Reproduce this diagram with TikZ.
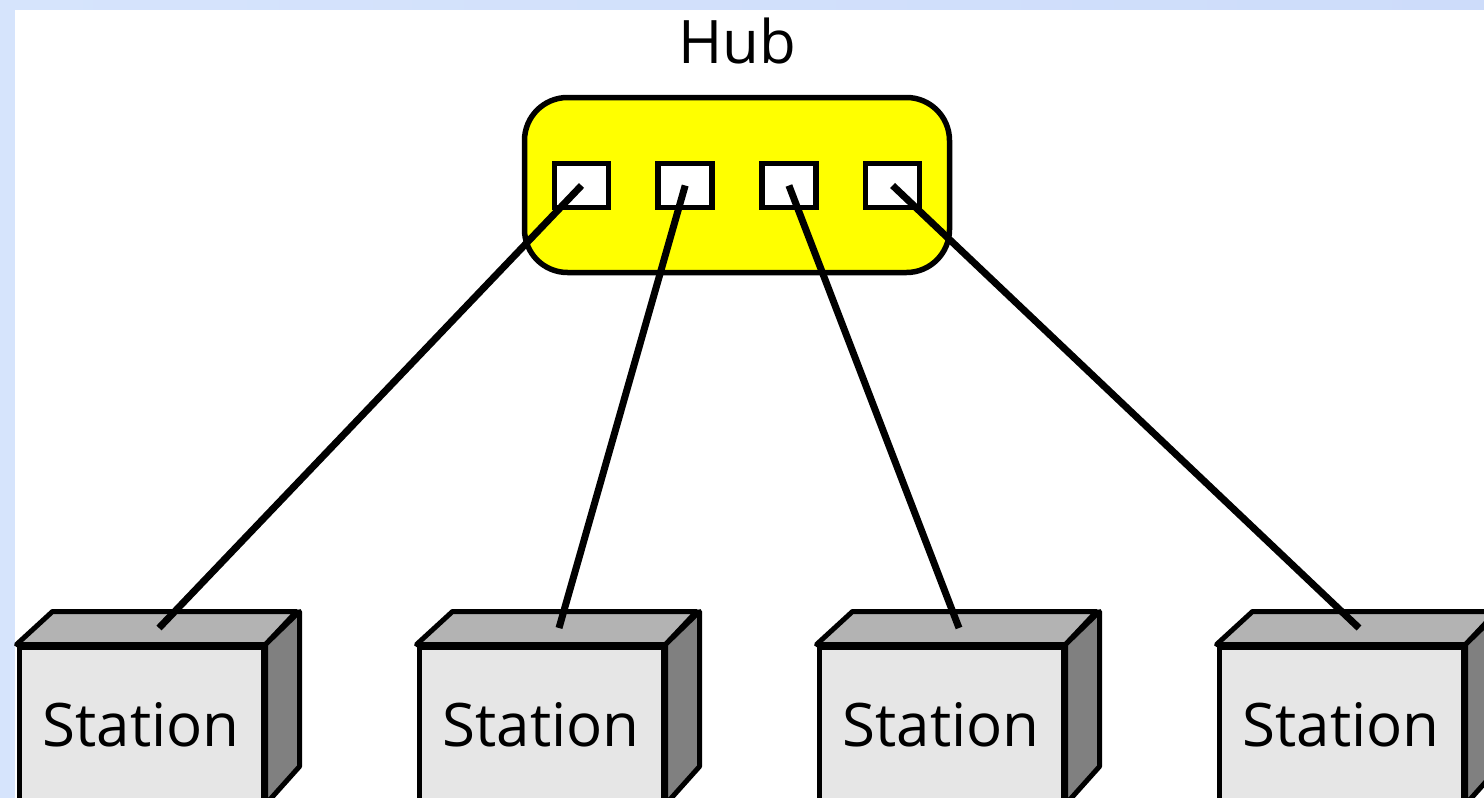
\documentclass[tikz,border=0pt]{standalone}
\usepackage{fontspec}
\setmainfont{Open Sans}
\definecolor{bgL}{HTML}{D6E4FC}
\definecolor{bgM}{HTML}{F8FAFF}
\definecolor{bgR}{HTML}{CDDCFA}
\definecolor{hubyellow}{HTML}{FFFF00}
\definecolor{topgray}{HTML}{B3B3B3}
\definecolor{frontgray}{HTML}{E6E6E6}
\definecolor{sidegray}{HTML}{808080}
\tikzset{
  hubbox/.style={draw=black, line width=5.5pt, fill=hubyellow, rounded corners=43pt,
    minimum width=425pt, minimum height=175pt, inner sep=0pt},
  portbox/.style={draw=black, line width=5.5pt, fill=white,
    minimum width=54pt, minimum height=44pt, inner sep=0pt},
  stationfront/.style={draw=black, line width=5pt, fill=frontgray,
    minimum width=244pt, minimum height=155pt, inner sep=0pt,
    font=\fontsize{60}{70}\selectfont},
  topface/.style={draw=black, line width=5pt, fill=topgray, line join=round},
  sideface/.style={draw=black, line width=5pt, fill=sidegray, line join=round},
  wire/.style={draw=black, line width=7pt},
  lbl/.style={font=\fontsize{60}{70}\selectfont, inner sep=0pt}
}
\begin{document}
\begin{tikzpicture}[x=1pt,y=-1pt]
\useasboundingbox (0,0) rectangle (1484,798);
\clip (0,0) rectangle (1484,798);
\shade[left color=bgL, middle color=bgM, right color=bgR] (0,0) rectangle (1484,798);
\fill[white] (15,10) rectangle (1484,798);

% hub
\node[lbl] (hublabel) at (737,41) {Hub};
\node[hubbox] (hub) at (737,185) {};
\foreach \i/\x in {1/581.5, 2/685.2, 3/788.9, 4/892.6}{
  \node[portbox] (p\i) at (\x,185.5) {};
}

% stations
\foreach \i/\x in {1/141, 2/541, 3/941, 4/1341}{
  \node[stationfront] (s\i) at (\x,724.5) {Station};
  \draw[topface] (s\i.north west) -- ++(36,-33) -- ++(244,0) -- (s\i.north east) -- cycle;
  \draw[sideface] (s\i.north east) -- ++(34,-33) -- ++(0,155) -- (s\i.south east) -- cycle;
  \coordinate (t\i) at (\x+18,628);
}

% connectors
\foreach \i in {1,...,4}{
  \draw[wire] (p\i.center) -- (t\i);
}
\end{tikzpicture}
\end{document}
